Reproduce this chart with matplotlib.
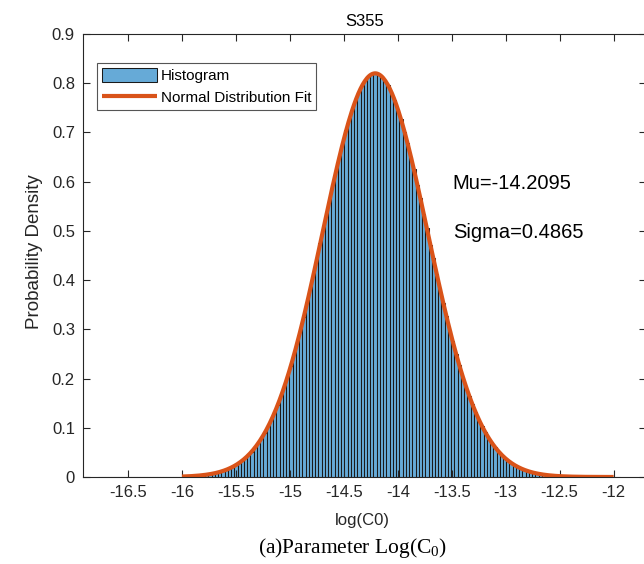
import numpy as np
import matplotlib
matplotlib.use("Agg")
import matplotlib.pyplot as plt

plt.rcParams['font.family'] = ['Liberation Sans', 'DejaVu Sans']
plt.rcParams['mathtext.fontset'] = 'custom'
plt.rcParams['mathtext.rm'] = 'Liberation Serif'
plt.rcParams['mathtext.it'] = 'Liberation Serif:italic'

# ---- data ----
title_text = "S355"
mu = -14.2095
sigma = 0.4865
bin_first_center = -16.76
bin_width = 0.03
hist_heights = [
    # left tail
    0.0004, 0, 0, 0.0004, 0, 0, 0, 0, 0.0004, 0, 0, 0.0004, 0.0004, 0, 0.0004,
    0, 0.0004, 0.0004, 0, 0.0004, 0.0004, 0.0004, 0.0008, 0.0004, 0.0008,
    # rising side
    0.0008, 0.0012, 0.0013, 0.0018, 0.0020, 0.0027, 0.0031, 0.0040, 0.0046, 0.0059,
    0.0069, 0.0087, 0.0100, 0.0125, 0.0143, 0.0176, 0.0202, 0.0247, 0.0281, 0.0339,
    0.0384, 0.0459, 0.0518, 0.0612, 0.0688, 0.0805, 0.0899, 0.1041, 0.1158, 0.1326,
    0.1468, 0.1662, 0.1835, 0.2061, 0.2255, 0.2507, 0.2731, 0.3010, 0.3254, 0.3556,
    0.3820, 0.4139, 0.4416, 0.4745, 0.5027, 0.5358, 0.5636, 0.5958, 0.6222, 0.6528,
    0.6766, 0.7042, 0.7248, 0.7483, 0.7644, 0.7830, 0.7941, 0.8072, 0.8125, 0.8196,
    # peak
    0.8228,
    # falling side
    0.8179, 0.8150, 0.8049, 0.7966, 0.7806, 0.7669, 0.7459, 0.7274, 0.7018, 0.6793,
    0.6502, 0.6249, 0.5934, 0.5661, 0.5333, 0.5052, 0.4722, 0.4440, 0.4117, 0.3845,
    0.3533, 0.3278, 0.2988, 0.2754, 0.2489, 0.2279, 0.2041, 0.1856, 0.1649, 0.1490,
    0.1311, 0.1178, 0.1027, 0.0918, 0.0793, 0.0704, 0.0601, 0.0532, 0.0450, 0.0395,
    0.0331, 0.0291, 0.0240, 0.0210, 0.0171, 0.0149, 0.0121, 0.0105, 0.0083, 0.0073,
    0.0056, 0.0049, 0.0038, 0.0033, 0.0025, 0.0022, 0.0016, 0.0015, 0.0010, 0.0009,
    # right tail
    0.0008, 0.0006, 0.0006, 0.0004, 0.0004, 0.0004, 0.0002, 0.0004, 0, 0.0002,
    0.0002, 0, 0.0002, 0.0002, 0.0004,
]
fit_x_range = (-16.0, -12.0)
x_ticks = [-16.5, -16, -15.5, -15, -14.5, -14, -13.5, -13, -12.5, -12]
x_tick_labels = ["-16.5", "-16", "-15.5", "-15", "-14.5", "-14", "-13.5", "-13", "-12.5", "-12"]
y_ticks = [0, 0.1, 0.2, 0.3, 0.4, 0.5, 0.6, 0.7, 0.8, 0.9]
y_tick_labels = ["0", "0.1", "0.2", "0.3", "0.4", "0.5", "0.6", "0.7", "0.8", "0.9"]
legend_labels = ["Histogram", "Normal Distribution Fit"]
x_label = "log(C0)"
y_label = "Probability Density"
caption = "(a)Parameter Log(C$_0$)"

# ---- figure ----
W, H = 644, 564
fig = plt.figure(figsize=(W / 100, H / 100), dpi=100)
ax_left, ax_right, ax_top, ax_bottom = 83.3, 646, 34, 477
ax = fig.add_axes([ax_left / W, 1 - ax_bottom / H,
                   (ax_right - ax_left) / W, (ax_bottom - ax_top) / H])

centers = bin_first_center + bin_width * np.arange(len(hist_heights))
bar_color = (0.4, 0.6 * 0.447 + 0.4, 0.6 * 0.741 + 0.4)
bars = ax.bar(centers, hist_heights, width=bin_width, color=bar_color,
              edgecolor='#1a1a1a', linewidth=0.75, label=legend_labels[0])

xf = np.linspace(fit_x_range[0], fit_x_range[1], 400)
yf = np.exp(-0.5 * ((xf - mu) / sigma) ** 2) / (sigma * np.sqrt(2 * np.pi))
line, = ax.plot(xf, yf, color='#D95319', linewidth=3, label=legend_labels[1],
                solid_capstyle='butt')

ax.set_xlim(-16.914, -11.70)
ax.set_ylim(0, 0.9)
ax.set_xticks(x_ticks)
ax.set_xticklabels(x_tick_labels)
ax.set_yticks(y_ticks)
ax.set_yticklabels(y_tick_labels)

axis_col = '#262626'
for s in ax.spines.values():
    s.set_color(axis_col)
    s.set_linewidth(0.8)
ax.tick_params(direction='in', length=5, width=0.8, top=True, right=True,
               colors=axis_col, labelsize=12, pad=6)

ax.set_title(title_text, fontsize=12, color='black', pad=6)
ax.set_xlabel(x_label, fontsize=12, color=axis_col, va='center')
ax.xaxis.set_label_coords(0.4955, (477 - 521) / 443)
ax.set_ylabel(y_label, fontsize=13.5, color=axis_col, va='center')
ax.yaxis.set_label_coords((35 - 83.3) / 562.7, 0.508)

ax.text(-13.49, 0.597, "Mu=%.4f" % mu, fontsize=14.5, va='center', ha='left')
ax.text(-13.49, 0.496, "Sigma=%.4f" % sigma, fontsize=14.5, va='center', ha='left')

leg = ax.legend([bars, line], legend_labels,
                loc='upper left', bbox_to_anchor=(0.0243, 0.9345),
                borderaxespad=0, fontsize=11, handlelength=3.6,
                handleheight=1.05, handletextpad=0.3, borderpad=0.3,
                labelspacing=0.45, fancybox=False, framealpha=1,
                edgecolor='#555555')
leg.get_frame().set_linewidth(0.8)

fig.text(352 / W, 1 - 548 / H, caption, fontsize=15.5,
         family=['Liberation Serif'], ha='center', va='center')

fig.savefig("out.png", dpi=100)
